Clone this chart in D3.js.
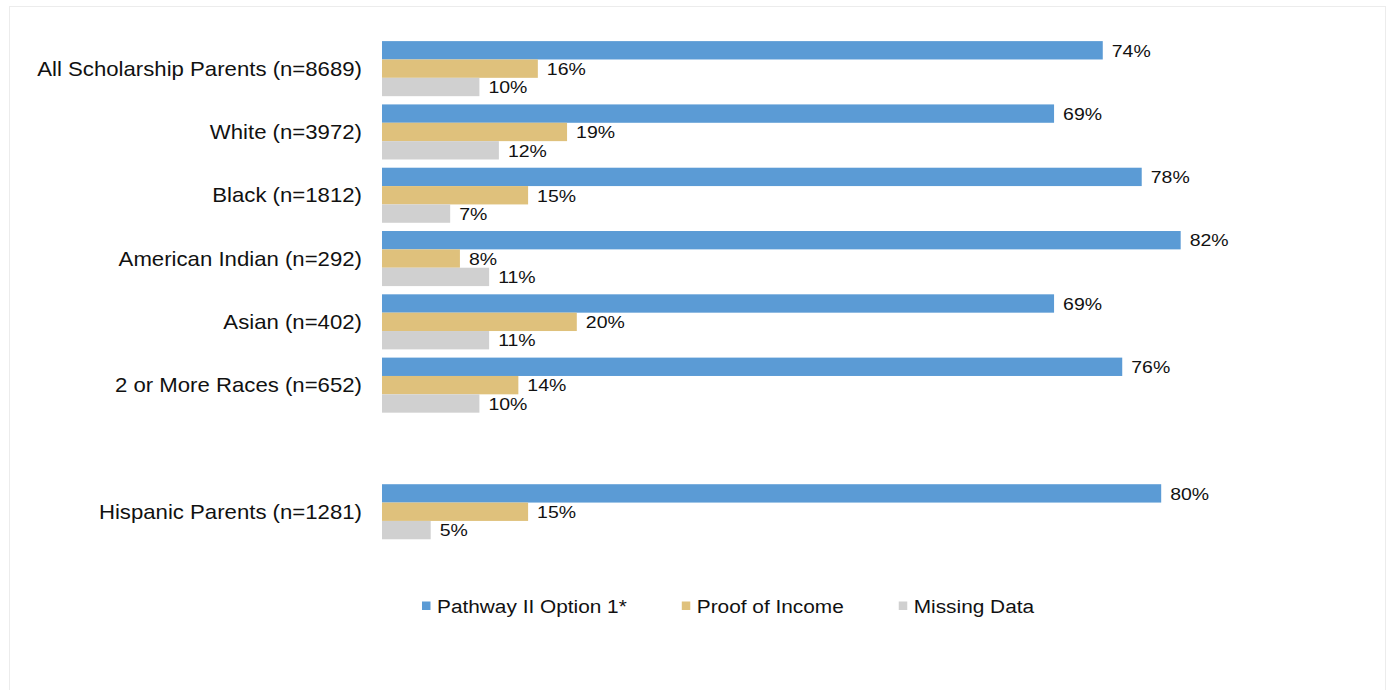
<!DOCTYPE html>
<html>
<head>
<meta charset="utf-8">
<script src="https://cdn.jsdelivr.net/npm/d3@7"></script>
<style>
  html, body { margin: 0; padding: 0; background: #fff; }
  svg { display: block; }
  text { font-family: "Liberation Sans", Arial, sans-serif; fill: #111; }
</style>
</head>
<body>
<svg id="chart" width="1393" height="690"></svg>
<script>
// Group labels (top to bottom); "" is an empty spacer row before the Hispanic group
const groups = [
  "All Scholarship Parents (n=8689)",
  "White (n=3972)",
  "Black (n=1812)",
  "American Indian (n=292)",
  "Asian (n=402)",
  "2 or More Races (n=652)",
  "",
  "Hispanic Parents (n=1281)"
];

// Percent of parents in each group, by verification route
const pathway = [74, 69, 78, 82, 69, 76, null, 80];
const income  = [16, 19, 15, 8, 20, 14, null, 15];
const missing = [10, 12, 7, 11, 11, 10, null, 5];

const seriesNames  = ["Pathway II Option 1*", "Proof of Income", "Missing Data"];
const seriesColors = ["#5B9BD5", "#DFC17C", "#D0D0D0"];
const seriesValues = [pathway, income, missing];

const svg = d3.select("#chart");
const SX = 1.12; // horizontal stretch applied to all text

// light frame around the chart area
svg.append("rect")
  .attr("x", 9.5).attr("y", 6.5)
  .attr("width", 1376).attr("height", 700)
  .attr("fill", "none").attr("stroke", "#ececec");

const keys = groups.map((g, i) => "g" + i);

const y = d3.scaleBand()
  .domain(keys)
  .range([37, 543.4])
  .paddingInner(0.13)
  .paddingOuter(0.065);

const ySub = d3.scaleBand()
  .domain(d3.range(seriesNames.length))
  .range([0, y.bandwidth()]);

const x = d3.scaleLinear().domain([0, 100]).range([382, 382 + 974]);

const rows = groups.map((g, i) => ({
  key: keys[i],
  label: g,
  vals: seriesValues.map(s => s[i])
})).filter(r => r.vals[0] != null);

const row = svg.selectAll("g.row")
  .data(rows)
  .join("g")
  .attr("class", "row")
  .attr("transform", d => `translate(0,${y(d.key)})`);

// bars
row.selectAll("rect")
  .data(d => d.vals.map((v, j) => ({ v, j })))
  .join("rect")
  .attr("x", x(0))
  .attr("y", d => ySub(d.j))
  .attr("width", d => x(d.v) - x(0))
  .attr("height", ySub.bandwidth())
  .attr("fill", d => seriesColors[d.j]);

// value labels
row.selectAll("text.val")
  .data(d => d.vals.map((v, j) => ({ v, j })))
  .join("text")
  .attr("class", "val")
  .attr("transform", d => `translate(${x(d.v) + 9},${ySub(d.j) + ySub.bandwidth() / 2}) scale(${SX},1)`)
  .attr("dy", "0.36em")
  .attr("font-size", "17.4px")
  .text(d => d.v + "%");

// group labels
row.append("text")
  .attr("transform", d => `translate(362,${y.bandwidth() / 2}) scale(${SX},1)`)
  .attr("text-anchor", "end")
  .attr("dy", "0.36em")
  .attr("font-size", "19.8px")
  .text(d => d.label);

// legend
const legend = svg.append("g").attr("transform", "translate(422,606)");
let lx = 0;
seriesNames.forEach((name, j) => {
  const item = legend.append("g").attr("transform", `translate(${lx},0)`);
  item.append("rect")
    .attr("x", 0).attr("y", -4.5)
    .attr("width", 8.5).attr("height", 8.5)
    .attr("fill", seriesColors[j]);
  const t = item.append("text")
    .attr("transform", `translate(15,0) scale(${SX},1)`)
    .attr("dy", "0.36em")
    .attr("font-size", "18.6px")
    .text(name);
  lx += 15 + t.node().getComputedTextLength() * SX + 55;
});
</script>
</body>
</html>
